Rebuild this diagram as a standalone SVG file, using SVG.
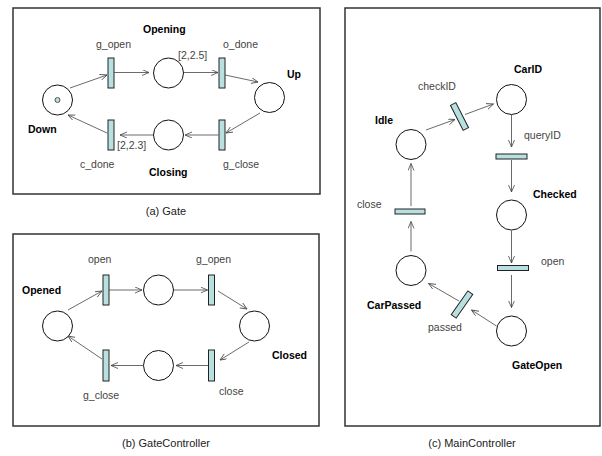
<svg xmlns="http://www.w3.org/2000/svg" width="602" height="456" viewBox="0 0 602 456">
<style>
.panel{fill:#fff;stroke:#333;stroke-width:1.5}
.place{fill:#fff;stroke:#111;stroke-width:1}
.trans{fill:#b8e0e0;stroke:#222;stroke-width:1}
.arc{fill:none;stroke:#444;stroke-width:0.8;marker-end:url(#ah)}
.lbl{font-family:"Liberation Sans",Arial,sans-serif;font-size:10.5px;fill:#444}
.nm{font-family:"Liberation Sans",Arial,sans-serif;font-size:10.5px;font-weight:bold;fill:#000}
.cap{font-family:"Liberation Sans",Arial,sans-serif;font-size:11px;fill:#222;text-anchor:middle}
</style>
<defs>
<marker id="ah" markerUnits="userSpaceOnUse" markerWidth="10" markerHeight="8" refX="7" refY="3" orient="auto">
<path d="M0,0 L7,3 L0,6" fill="none" stroke="#444" stroke-width="0.8"/>
</marker>
</defs>
<rect width="602" height="456" fill="#fff"/>
<rect class="panel" x="13" y="8" width="307" height="186"/>
<rect class="panel" x="13" y="234" width="306" height="192"/>
<rect class="panel" x="345" y="8" width="255" height="418"/>

<!-- Panel (a) Gate -->
<g id="a_Down"><circle class="place" cx="57.5" cy="100" r="15"/><circle cx="57.5" cy="100" r="2.5" fill="#b8e0e0" stroke="#333" stroke-width="0.8"/><text class="nm" x="28" y="133">Down</text></g>
<g id="a_g_open"><rect class="trans" x="108" y="58" width="6" height="30"/><text class="lbl" x="96" y="48">g_open</text></g>
<g id="a_Opening"><circle class="place" cx="168.5" cy="73" r="15"/><text class="nm" x="143" y="33">Opening</text></g>
<g id="a_o_done"><rect class="trans" x="219" y="58" width="6" height="30"/><text class="lbl" x="223" y="48">o_done</text><text class="lbl" x="178" y="59">[2,2.5]</text></g>
<g id="a_Up"><circle class="place" cx="269.5" cy="97.5" r="15"/><text class="nm" x="287" y="78">Up</text></g>
<g id="a_g_close"><rect class="trans" x="219" y="120" width="6" height="30"/><text class="lbl" x="223" y="168">g_close</text></g>
<g id="a_Closing"><circle class="place" cx="168.5" cy="135" r="15"/><text class="nm" x="149" y="176">Closing</text></g>
<g id="a_c_done"><rect class="trans" x="108" y="120" width="6" height="30"/><text class="lbl" x="80" y="168">c_done</text><text class="lbl" x="117" y="149">[2,2.3]</text></g>

<!-- Panel (b) GateController -->
<g id="b_Opened"><circle class="place" cx="57.5" cy="326" r="15"/><text class="nm" x="22" y="294">Opened</text></g>
<g id="b_open"><rect class="trans" x="103" y="275" width="6" height="30"/><text class="lbl" x="88" y="263">open</text></g>
<g id="b_p1"><circle class="place" cx="158.5" cy="290" r="15"/></g>
<g id="b_g_open"><rect class="trans" x="208.5" y="275" width="6" height="30"/><text class="lbl" x="196" y="263">g_open</text></g>
<g id="b_Closed"><circle class="place" cx="254.5" cy="326" r="15"/><text class="nm" x="272" y="359">Closed</text></g>
<g id="b_close"><rect class="trans" x="208.5" y="350" width="6" height="31"/><text class="lbl" x="219" y="395">close</text></g>
<g id="b_p2"><circle class="place" cx="158.5" cy="365.5" r="15"/></g>
<g id="b_g_close"><rect class="trans" x="103" y="350" width="6" height="31"/><text class="lbl" x="83" y="399">g_close</text></g>

<!-- Panel (c) MainController -->
<g id="c_CarID"><circle class="place" cx="511.5" cy="99.5" r="15"/><text class="nm" x="514" y="73">CarID</text></g>
<g id="c_checkID"><rect class="trans" x="-3" y="-14" width="6" height="28" transform="translate(459.5,116.5) rotate(-27)"/><text class="lbl" x="418" y="90">checkID</text></g>
<g id="c_Idle"><circle class="place" cx="411" cy="144.5" r="15"/><text class="nm" x="375" y="124">Idle</text></g>
<g id="c_queryID"><rect class="trans" x="496" y="154" width="31" height="5"/><text class="lbl" x="524" y="139">queryID</text></g>
<g id="c_Checked"><circle class="place" cx="511.5" cy="215" r="15"/><text class="nm" x="533" y="198">Checked</text></g>
<g id="c_open"><rect class="trans" x="497.5" y="265.5" width="31" height="5"/><text class="lbl" x="541" y="265">open</text></g>
<g id="c_GateOpen"><circle class="place" cx="511.5" cy="331" r="15"/><text class="nm" x="512" y="369">GateOpen</text></g>
<g id="c_passed"><rect class="trans" x="-3" y="-14.5" width="6" height="29" transform="translate(462,304.5) rotate(35)"/><text class="lbl" x="428" y="331">passed</text></g>
<g id="c_CarPassed"><circle class="place" cx="411" cy="270.5" r="15"/><text class="nm" x="367" y="309">CarPassed</text></g>
<g id="c_close"><rect class="trans" x="395" y="209" width="30" height="5"/><text class="lbl" x="357" y="208">close</text></g>

<g id="connectors">
<line class="arc" x1="70" y1="88" x2="107" y2="75"/>
<line class="arc" x1="114" y1="72.5" x2="149" y2="72.5"/>
<line class="arc" x1="184" y1="72.5" x2="218" y2="72.5"/>
<line class="arc" x1="225" y1="75" x2="258" y2="82"/>
<line class="arc" x1="260" y1="113" x2="226" y2="133"/>
<line class="arc" x1="218.5" y1="135" x2="185" y2="135"/>
<line class="arc" x1="153" y1="135" x2="120" y2="135"/>
<line class="arc" x1="107" y1="133" x2="68" y2="115"/>

<line class="arc" x1="68" y1="310" x2="102" y2="291"/>
<line class="arc" x1="109" y1="290" x2="142" y2="290"/>
<line class="arc" x1="174" y1="290" x2="207.5" y2="290"/>
<line class="arc" x1="218" y1="291" x2="247" y2="309"/>
<line class="arc" x1="249" y1="342" x2="220" y2="360"/>
<line class="arc" x1="208" y1="365.5" x2="176" y2="365.5"/>
<line class="arc" x1="143" y1="365.5" x2="111" y2="365.5"/>
<line class="arc" x1="102" y1="359" x2="68" y2="336"/>

<line class="arc" x1="426" y1="130" x2="455" y2="119.5"/>
<line class="arc" x1="465" y1="114.5" x2="493.5" y2="104"/>
<line class="arc" x1="511.5" y1="114.5" x2="511.5" y2="147"/>
<line class="arc" x1="511.5" y1="160" x2="511.5" y2="192"/>
<line class="arc" x1="511.5" y1="230.5" x2="511.5" y2="263"/>
<line class="arc" x1="511.5" y1="275" x2="511.5" y2="307.5"/>
<line class="arc" x1="496.5" y1="326" x2="471.5" y2="310"/>
<line class="arc" x1="459" y1="301" x2="428.5" y2="283.5"/>
<line class="arc" x1="411" y1="251.5" x2="411" y2="221.5"/>
<line class="arc" x1="411" y1="206" x2="411" y2="163.5"/>
</g>

<text class="cap" x="166" y="215">(a) Gate</text>
<text class="cap" x="166" y="447">(b) GateController</text>
<text class="cap" x="472" y="447">(c) MainController</text>
</svg>
